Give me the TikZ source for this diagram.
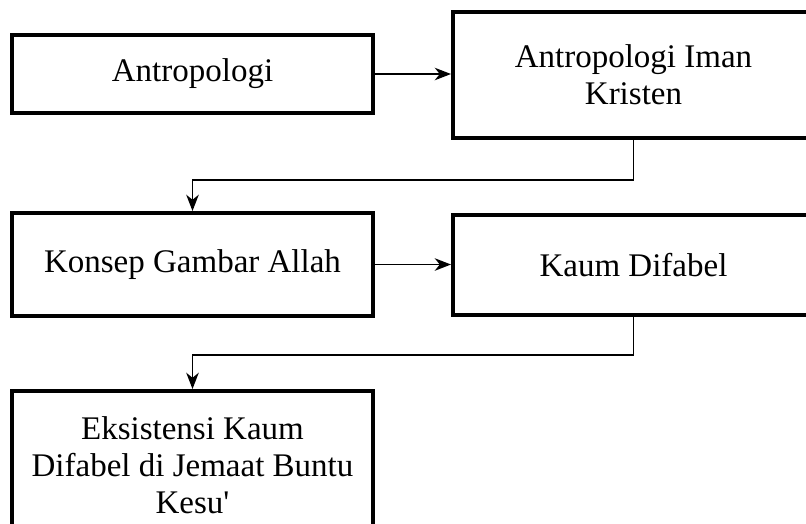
\documentclass[tikz,border=0pt]{standalone}
\usepackage{fontspec}
\setmainfont{Liberation Serif}
\usepackage{tikz}
\usetikzlibrary{arrows.meta, positioning, calc}

\begin{document}
\begin{tikzpicture}[
  x=0.4pt, y=-0.4pt,
  box/.style={draw, line width=1.6pt, minimum width=144.4pt, align=center, inner sep=0pt,
    font=\fontsize{13.2}{14.8}\selectfont},
  arr/.style={-{Stealth[length=6.5pt, width=5pt, inset=2pt]}, line width=0.6pt},
]
\useasboundingbox (0,0) rectangle (806,523);
\clip (0,0) rectangle (806,523);

% Top row
\node[box, minimum height=31.2pt] (antro) at (192.5, 74) {Antropologi};
\node[box, minimum height=50.4pt] (iman) at (633.5, 75) {Antropologi Iman\\Kristen};

% Middle row
\node[box, minimum height=41.2pt] (konsep) at (192.5, 264.5) {Konsep Gambar Allah};
\node[box, minimum height=40pt] (difabel) at (633.5, 265) {Kaum Difabel};

% Bottom
\node[box, minimum height=63.2pt, text depth=3.6pt] (eksis) at (192.5, 470)
  {Eksistensi Kaum\\Difabel di Jemaat Buntu\\Kesu\textquotesingle};

% Arrows
\draw[arr] (antro.east) -- (antro.east -| iman.west);
\draw[arr] (konsep.east) -- (konsep.east -| difabel.west);
\draw[arr] (iman.south) -- ++(0, 40) -| (konsep.north);
\draw[arr] (difabel.south) -- ++(0, 38) -| (eksis.north);

\end{tikzpicture}
\end{document}
